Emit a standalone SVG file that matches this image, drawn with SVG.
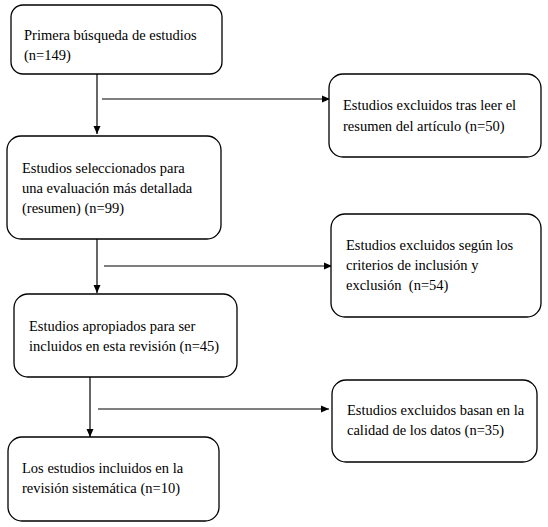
<svg xmlns="http://www.w3.org/2000/svg" width="548" height="527" viewBox="0 0 548 527">
<style>
.box{fill:#fff;stroke:#000;stroke-width:1.3}
.t{font-family:"Liberation Serif","Times New Roman",serif;font-size:14.5px;fill:#000}
.c{stroke:#000;stroke-width:1.2;fill:none}
</style>
<defs>
<marker id="ah" markerWidth="8" markerHeight="8" refX="8" refY="4" orient="auto" markerUnits="userSpaceOnUse">
<path d="M0,0.5 L8,4 L0,7.5 Z" fill="#000"/>
</marker>
</defs>
<rect width="548" height="527" fill="#fff"/>
<g id="connectors">
<line class="c" x1="97" y1="67" x2="97" y2="134" marker-end="url(#ah)"/>
<line class="c" x1="102" y1="99" x2="330" y2="99" marker-end="url(#ah)"/>
<line class="c" x1="97" y1="228" x2="97" y2="293" marker-end="url(#ah)"/>
<line class="c" x1="104" y1="266" x2="332" y2="266" marker-end="url(#ah)"/>
<line class="c" x1="90" y1="370" x2="90" y2="437" marker-end="url(#ah)"/>
<line class="c" x1="98" y1="409" x2="329" y2="409" marker-end="url(#ah)"/>
</g>
<g id="n1">
<rect class="box" x="11" y="5" width="211" height="69" rx="12"/>
<text class="t" x="24" y="40">Primera búsqueda de estudios</text>
<text class="t" x="24" y="60">(n=149)</text>
</g>
<g id="n2">
<rect class="box" x="7" y="136" width="214" height="103" rx="14"/>
<text class="t" x="22" y="173">Estudios seleccionados para</text>
<text class="t" x="22" y="193">una evaluación más detallada</text>
<text class="t" x="22" y="213">(resumen) (n=99)</text>
</g>
<g id="r1">
<rect class="box" x="329" y="74" width="212" height="83" rx="14"/>
<text class="t" x="343" y="110">Estudios excluidos tras leer el</text>
<text class="t" x="343" y="131">resumen del artículo (n=50)</text>
</g>
<g id="r2">
<rect class="box" x="331" y="214" width="210" height="103" rx="14"/>
<text class="t" x="346" y="250">Estudios excluidos según los</text>
<text class="t" x="346" y="270">criterios de inclusión y</text>
<text class="t" x="346" y="290" xml:space="preserve">exclusión  (n=54)</text>
</g>
<g id="n3">
<rect class="box" x="14" y="294" width="223" height="83" rx="14"/>
<text class="t" x="29" y="331">Estudios apropiados para ser</text>
<text class="t" x="29" y="351">incluidos en esta revisión (n=45)</text>
</g>
<g id="r3">
<rect class="box" x="332" y="380" width="205" height="82" rx="14"/>
<text class="t" x="347" y="415">Estudios excluidos basan en la</text>
<text class="t" x="347" y="435">calidad de los datos (n=35)</text>
</g>
<g id="n4">
<rect class="box" x="8" y="437" width="211" height="84" rx="14"/>
<text class="t" x="22" y="473">Los estudios incluidos en la</text>
<text class="t" x="22" y="493">revisión sistemática (n=10)</text>
</g>
</svg>
